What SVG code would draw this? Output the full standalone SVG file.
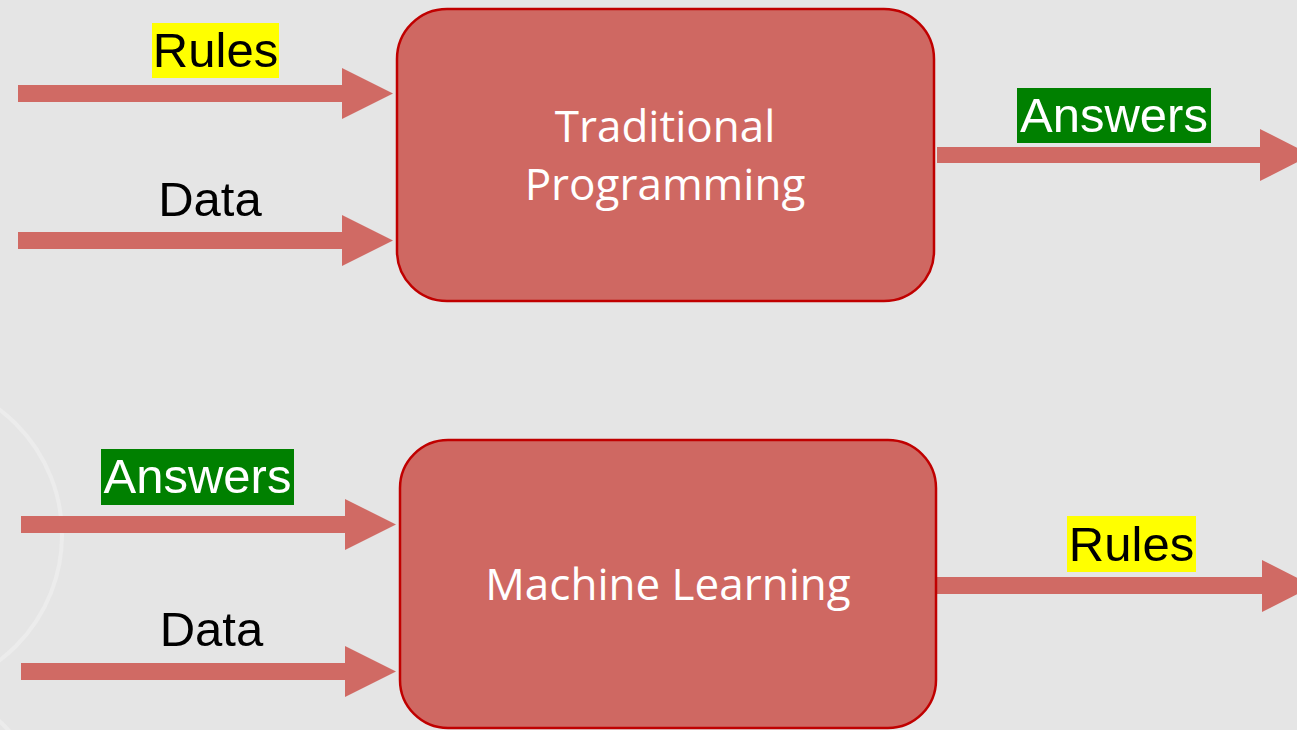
<svg xmlns="http://www.w3.org/2000/svg" width="1297" height="730" viewBox="0 0 1297 730">
<style>
.bg{fill:#e5e5e5}
.ring{fill:none;stroke:#ececec;stroke-width:4}
.box{fill:#cf6862;stroke:#c00000;stroke-width:2.5}
.arr{fill:#d06a64}
.lbl{font-family:"Liberation Sans",Arial,sans-serif;font-size:49px;text-anchor:middle}
.boxt{font-family:"Open Sans","Noto Sans",sans-serif;font-size:44px;fill:#ffffff;text-anchor:middle}
.hy{fill:#ffff00}
.hg{fill:#008000}
</style>
<rect class="bg" x="0" y="0" width="1297" height="730"/>
<g id="decor">
<circle class="ring" cx="-95" cy="535" r="157"/>
<circle class="ring" cx="-70" cy="800" r="105"/>
</g>
<g id="connectors">
<path id="c-rules-in" class="arr" d="M18,85 H342 V68 L393,93.5 L342,119 V102 H18 Z"/>
<path id="c-data-in1" class="arr" d="M18,232 H342 V215 L393,240.5 L342,266 V249 H18 Z"/>
<path id="c-answers-out" class="arr" d="M937,147 H1260 V129 L1311,155 L1260,181 V163 H937 Z"/>
<path id="c-answers-in" class="arr" d="M21,516 H345 V499 L396,524.5 L345,550 V533 H21 Z"/>
<path id="c-data-in2" class="arr" d="M21,663 H345 V646 L396,671.5 L345,697 V680 H21 Z"/>
<path id="c-rules-out" class="arr" d="M937,577 H1262 V560 L1313,586 L1262,612 V594 H937 Z"/>
</g>
<g id="lbl-rules-in">
<rect class="hy" x="152" y="23" width="127" height="55"/>
<text class="lbl" x="215.5" y="67" fill="#000">Rules</text>
</g>
<g id="lbl-data-in1">
<text class="lbl" x="210" y="216" fill="#000">Data</text>
</g>
<g id="lbl-answers-out">
<rect class="hg" x="1017" y="88" width="194" height="55"/>
<text class="lbl" x="1114" y="132" fill="#fff">Answers</text>
</g>
<g id="lbl-answers-in">
<rect class="hg" x="101" y="449" width="193" height="56"/>
<text class="lbl" x="197.5" y="493" fill="#fff">Answers</text>
</g>
<g id="lbl-data-in2">
<text class="lbl" x="211.5" y="646" fill="#000">Data</text>
</g>
<g id="lbl-rules-out">
<rect class="hy" x="1067" y="516" width="129" height="56"/>
<text class="lbl" x="1131.5" y="561" fill="#000">Rules</text>
</g>
<g id="node-traditional">
<rect class="box" x="397" y="9" width="537" height="292" rx="50" ry="50"/>
<text class="boxt" x="665" y="142">Traditional</text>
<text class="boxt" x="665" y="200">Programming</text>
</g>
<g id="node-ml">
<rect class="box" x="400" y="440" width="536" height="288" rx="48" ry="48"/>
<text class="boxt" x="668" y="600">Machine Learning</text>
</g>
</svg>
